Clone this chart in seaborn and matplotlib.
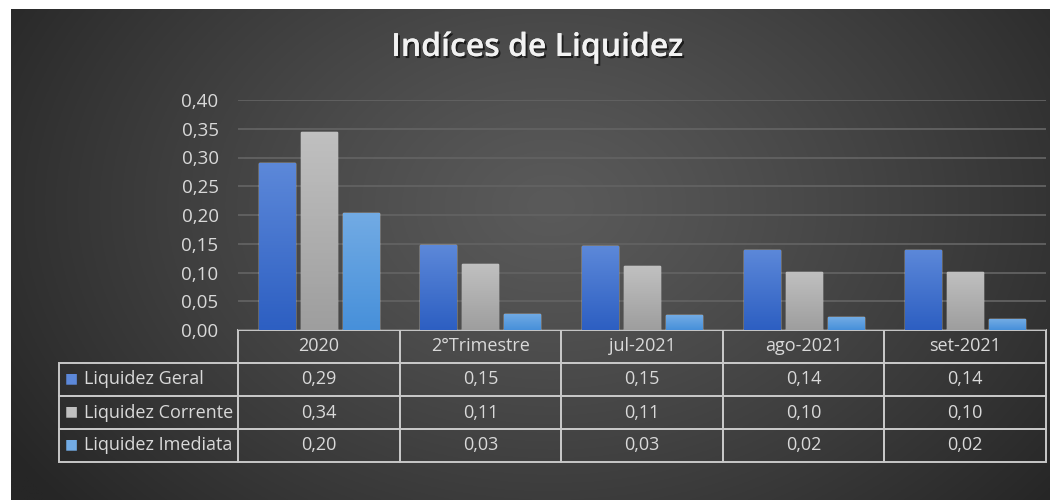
import numpy as np
import pandas as pd
import matplotlib
matplotlib.use("Agg")
import matplotlib.pyplot as plt
import matplotlib.patheffects as pe
from matplotlib.ticker import FuncFormatter
import seaborn as sns

# ---------- data ----------
periodos = ["2020", "2°Trimestre", "jul-2021", "ago-2021", "set-2021"]
indicadores = ["Liquidez Geral", "Liquidez Corrente", "Liquidez Imediata"]
liq_geral = [0.29, 0.147, 0.146, 0.14, 0.14]
liq_corrente = [0.344, 0.114, 0.111, 0.101, 0.101]
liq_imediata = [0.204, 0.028, 0.026, 0.022, 0.019]
yticks = [0.0, 0.05, 0.10, 0.15, 0.20, 0.25, 0.30, 0.35, 0.40]

df = pd.DataFrame({
    "periodo": periodos * 3,
    "indicador": np.repeat(indicadores, len(periodos)),
    "valor": liq_geral + liq_corrente + liq_imediata,
})

# bottom / top colours of each bar gradient
bar_colors = {
    "Liquidez Geral": ("#2d5fc2", "#5c88d9"),
    "Liquidez Corrente": ("#9e9e9e", "#c0c0c0"),
    "Liquidez Imediata": ("#4790da", "#72abe4"),
}
palette = {k: v[1] for k, v in bar_colors.items()}

sns.set_theme(style="dark")
plt.rcParams["font.family"] = ["Open Sans", "DejaVu Sans"]

fig = plt.figure(figsize=(10.5, 5), dpi=100)
fig.patch.set_facecolor("white")

# ---------- background (radial grey gradient) ----------
bg = fig.add_axes([11 / 1050, 0, 1039 / 1050, 491 / 500], zorder=-5)
yy, xx = np.mgrid[0:1:300j, 0:1:600j]
r = np.sqrt(((xx - 0.52) / 0.62) ** 2 + ((yy - 0.40) / 0.95) ** 2)
shade = 90 - 52 * np.clip(r, 0, 1) ** 1.2
img = np.dstack([shade, shade, shade]) / 255.0
bg.imshow(img, aspect="auto", extent=(0, 1, 0, 1), origin="upper")
bg.set_axis_off()

# ---------- bars ----------
ax = fig.add_axes([238 / 1050, 170 / 500, 808 / 1050, 230 / 500])
ax.set_facecolor("none")
sns.barplot(data=df, x="periodo", y="valor", hue="indicador", order=periodos,
            hue_order=indicadores, palette=palette, width=0.78, gap=0.14,
            errorbar=None, legend=False, ax=ax, zorder=3)

# vertical gradient on each bar
for container, name in zip(ax.containers, indicadores):
    c0, c1 = bar_colors[name]
    cmap = matplotlib.colors.LinearSegmentedColormap.from_list(name, [c0, c1])
    grad = np.linspace(0, 1, 64).reshape(-1, 1)
    for bar in container:
        x0, y0 = bar.get_x(), bar.get_y()
        w, h = bar.get_width(), bar.get_height()
        im = ax.imshow(grad, cmap=cmap, origin="lower", aspect="auto",
                       extent=(x0, x0 + w, y0, y0 + h), zorder=4)
        im.set_clip_path(bar)

ax.set_xlim(-0.5, len(periodos) - 0.5)
ax.set_ylim(0, 0.40)
ax.set_yticks(yticks)
ax.yaxis.set_major_formatter(FuncFormatter(lambda v, _: f"{v:.2f}".replace(".", ",")))
ax.tick_params(axis="y", colors="#d9d9d9", labelsize=13.5, length=0, pad=14)
ax.set_xticks([])
ax.set_xlabel("")
ax.set_ylabel("")
ax.grid(axis="y", color="#626262", linewidth=1.3, zorder=0)
ax.grid(axis="x", visible=False)
for s in ax.spines.values():
    s.set_visible(False)

# ---------- data table ----------
fmt = lambda v: f"{v:.2f}".replace(".", ",")
cell_text = [[""] + periodos]
for name, vals in zip(indicadores, [liq_geral, liq_corrente, liq_imediata]):
    cell_text.append([name] + [fmt(v) for v in vals])

label_w = 179 / 808
tbl = ax.table(cellText=cell_text, cellLoc="center",
               colWidths=[label_w] + [1 / len(periodos)] * len(periodos),
               bbox=[-label_w, -132 / 230, 1 + label_w, 132 / 230])
tbl.auto_set_font_size(False)
tbl.set_fontsize(13)
for (row, col), cell in tbl.get_celld().items():
    cell.set_facecolor("none")
    cell.set_edgecolor("#c8c8c8")
    cell.set_linewidth(1.4)
    cell.get_text().set_color("#d9d9d9")
    if row == 0 and col == 0:
        cell.set_visible(False)
    if col == 0 and row > 0:
        cell.PAD = 0.14
        cell.get_text().set_horizontalalignment("left")
        cell._loc = "left"

# legend keys inside the row-label cells
fig.canvas.draw()
renderer = fig.canvas.get_renderer()
inv = fig.transFigure.inverted()
for i, name in enumerate(indicadores):
    bb = tbl[i + 1, 0].get_window_extent(renderer)
    (fx, fy) = inv.transform((bb.x0 + 12, (bb.y0 + bb.y1) / 2 + 1))
    fig.text(fx, fy, "■", color=bar_colors[name][1], fontsize=10,
             ha="center", va="center", family=["DejaVu Sans"])

# ---------- title ----------
fig.text(0.512, 0.905, "Indíces de Liquidez", ha="center", va="center",
         fontsize=23, fontweight="semibold", color="#f2f2f2",
         path_effects=[pe.withSimplePatchShadow(offset=(1.5, -1.5),
                                                shadow_rgbFace="black", alpha=0.6),
                       pe.Normal()])

fig.savefig("out.png", dpi=100, facecolor=fig.get_facecolor())
